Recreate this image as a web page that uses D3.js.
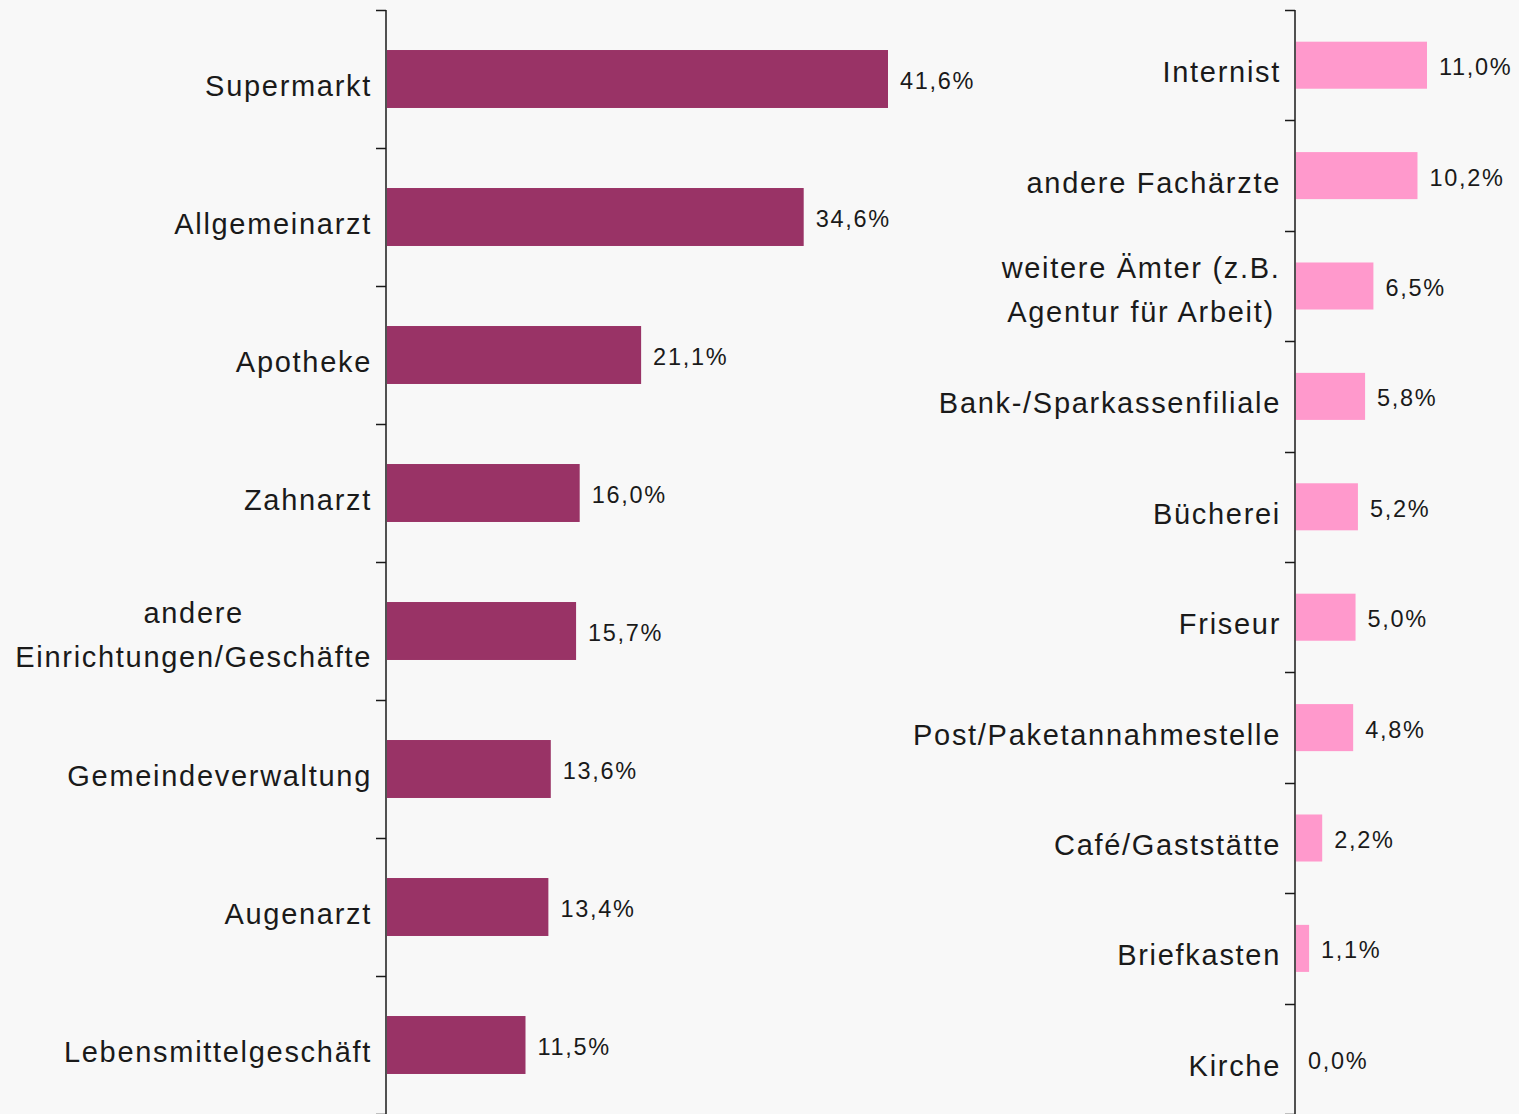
<!DOCTYPE html>
<html>
  <head>
    <meta charset="UTF-8" />
    <script src="https://d3js.org/d3.v7.min.js"></script>
    <style>
      body { margin: 0; background: #f8f8f8; }
      svg { display: block; font-family: "Liberation Sans", Arial, sans-serif; }
    </style>
  </head>
  <body>
    <div id="chart"></div>
    <script>
      // left panel
      var leftCats = ["Supermarkt", "Allgemeinarzt", "Apotheke", "Zahnarzt",
        "andere\nEinrichtungen/Geschäfte", "Gemeindeverwaltung", "Augenarzt", "Lebensmittelgeschäft"];
      var leftVals = [41.6, 34.6, 21.1, 16.0, 15.7, 13.6, 13.4, 11.5];

      // right panel
      var rightCats = ["Internist", "andere Fachärzte", "weitere Ämter (z.B.\nAgentur für Arbeit)",
        "Bank-/Sparkassenfiliale", "Bücherei", "Friseur", "Post/Paketannahmestelle",
        "Café/Gaststätte", "Briefkasten", "Kirche"];
      var rightVals = [11.0, 10.2, 6.5, 5.8, 5.2, 5.0, 4.8, 2.2, 1.1, 0.0];

      var width = 1519, height = 1114;

      var svg = d3.select("#chart").append("svg")
        .attr("width", width)
        .attr("height", height);

      svg.append("rect").attr("width", width).attr("height", height).attr("fill", "#f8f8f8");

      var fmt = function (v) { return v.toFixed(1).replace(".", ",") + "%"; };

      function panel(cats, vals, axisX, xMax, xEnd, pad, color) {
        var y = d3.scaleBand().domain(cats).range([10, 1114])
          .paddingInner(pad).paddingOuter(pad / 2);
        var x = d3.scaleLinear().domain([0, xMax]).range([axisX + 1, xEnd]);
        var g = svg.append("g");

        g.selectAll("rect.bar").data(vals).enter().append("rect")
          .attr("class", "bar")
          .attr("x", x(0))
          .attr("y", (d, i) => y(cats[i]))
          .attr("width", d => x(d) - x(0))
          .attr("height", y.bandwidth())
          .attr("fill", color);

        // axis line + ticks between bands
        g.append("line")
          .attr("x1", axisX).attr("x2", axisX)
          .attr("y1", 10).attr("y2", 1114)
          .attr("stroke", "#1a1a1a").attr("stroke-width", 1.5);
        var step = y.step();
        d3.range(cats.length + 1).forEach(function (i) {
          var ty = Math.round(10 + i * step) + 0.5;
          g.append("line")
            .attr("x1", axisX - 10).attr("x2", axisX)
            .attr("y1", ty).attr("y2", ty)
            .attr("stroke", "#1a1a1a").attr("stroke-width", 1.5);
        });

        // value labels
        g.selectAll("text.val").data(vals).enter().append("text")
          .attr("class", "val")
          .attr("x", d => x(d) + 12)
          .attr("y", (d, i) => y(cats[i]) + y.bandwidth() / 2 + 10)
          .attr("font-size", 23.5)
          .attr("letter-spacing", 1.7)
          .attr("fill", "#1a1a1a")
          .text(fmt);

        // category labels (multi-line centred)
        cats.forEach(function (c, i) {
          var lines = c.split("\n");
          var cy = y(c) + y.bandwidth() / 2;
          var t = g.append("text")
            .attr("font-size", 29)
            .attr("letter-spacing", 1.7)
            .attr("fill", "#1a1a1a");
          if (lines.length === 1) {
            t.attr("x", axisX - 14).attr("y", cy + 17)
              .attr("text-anchor", "end").text(c);
          } else {
            t.attr("text-anchor", "middle");
            lines.forEach(function (l, j) {
              t.append("tspan").attr("x", 0)
                .attr("y", cy + 14 + (j - (lines.length - 1) / 2) * 44).text(l);
            });
            var w = t.node().getBBox().width;
            t.selectAll("tspan").attr("x", axisX - 14 - w / 2);
          }
        });
      }

      panel(leftCats, leftVals, 386, 41.6, 888, 0.58, "#993366");
      panel(rightCats, rightVals, 1295, 11.0, 1427, 0.574, "#ff99cc");
    </script>
  </body>
</html>
